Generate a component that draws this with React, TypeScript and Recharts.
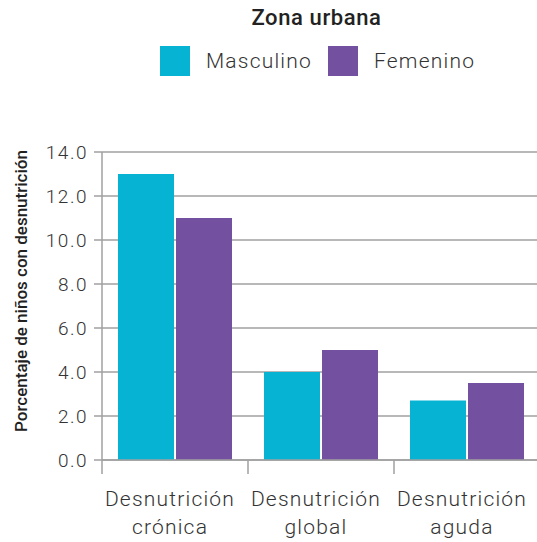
import React from 'react';
import { BarChart, Bar, XAxis, YAxis, CartesianGrid } from 'recharts';

const categorias = [['Desnutrición', 'crónica'], ['Desnutrición', 'global'], ['Desnutrición', 'aguda']];
const masculino = [13.0, 4.0, 2.7];
const femenino = [11.0, 5.0, 3.5];
const yTicks = [0, 2, 4, 6, 8, 10, 12, 14];

const CYAN = '#06b3d3';
const PURPLE = '#7351a0';
const GRID = '#a0a0a0';
const FONT = 'Roboto, "DejaVu Sans", sans-serif';

const CHART_W = 541;
const CHART_H = 542;
const PLOT_LEFT = 102;
const PLOT_W = 438;
const BAND = PLOT_W / categorias.length;

const data = categorias.map((c, i) => ({
  name: c.join(' '),
  idx: i,
  masculino: masculino[i],
  femenino: femenino[i],
}));

function CategoryTick(props: any) {
  const { x, y, payload, index } = props;
  const lines = categorias[payload.value] || [];
  const last = index === categorias.length - 1;
  return (
    <g>
      <line x1={x - BAND / 2} x2={x - BAND / 2} y1={y} y2={y + 14} stroke={GRID} strokeWidth={1.5} />
      {last && <line x1={x + BAND / 2} x2={x + BAND / 2} y1={y} y2={y + 14} stroke={GRID} strokeWidth={1.5} />}
      {lines.map((t, i) => (
        <text
          key={i}
          x={x - 5}
          y={y + 46 + i * 28}
          textAnchor="middle"
          fontSize={21}
          fontWeight={300}
          letterSpacing={1.2}
          fill="#333"
          fontFamily={FONT}
        >
          {t}
        </text>
      ))}
    </g>
  );
}

// titulo del eje Y, girado
function YTitle() {
  return (
    <text
      transform="translate(27,291) rotate(-90)"
      textAnchor="middle"
      fontSize={17}
      fontWeight={500}
      fill="#222"
      fontFamily={FONT}
    >
      Porcentaje de niños con desnutrición
    </text>
  );
}

export default function App() {
  return (
    <div style={{ position: 'absolute', left: 0, top: 0, width: 537, height: 542, overflow: 'hidden', background: '#fff', fontFamily: FONT }}>
      <div style={{ position: 'absolute', left: 0, top: 0, width: 537, textAlign: 'center', paddingLeft: 96, boxSizing: 'border-box' }}>
        <div style={{ fontSize: 22, fontWeight: 500, color: '#222', marginTop: 5, lineHeight: '26px', letterSpacing: 0.6 }}>Zona urbana</div>
      </div>
      <div style={{ position: 'absolute', left: 160, top: 46, display: 'flex', alignItems: 'center' }}>
        <div style={{ width: 30, height: 30, background: CYAN }} />
        <span style={{ marginLeft: 16, fontSize: 21, fontWeight: 300, color: '#333', letterSpacing: 1.2 }}>Masculino</span>
        <div style={{ width: 30, height: 30, background: PURPLE, marginLeft: 16 }} />
        <span style={{ marginLeft: 16, fontSize: 21, fontWeight: 300, color: '#333', letterSpacing: 1.2 }}>Femenino</span>
      </div>
      <div style={{ position: 'absolute', left: 0, top: 0 }}>
        <BarChart
          width={CHART_W}
          height={CHART_H}
          data={data}
          margin={{ top: 152, right: CHART_W - PLOT_LEFT - PLOT_W, bottom: 0, left: 0 }}
          barGap={2}
          barCategoryGap={16}
        >
          <CartesianGrid vertical={false} stroke={GRID} strokeWidth={1.5} />
          <XAxis
            dataKey="idx"
            type="category"
            height={82}
            axisLine={{ stroke: GRID, strokeWidth: 1.5 }}
            tickLine={false}
            tickSize={0}
            tickMargin={0}
            tick={<CategoryTick />}
            interval={0}
          />
          <YAxis
            width={PLOT_LEFT}
            domain={[0, 14]}
            ticks={yTicks}
            interval={0}
            tickFormatter={(v: number) => v.toFixed(1)}
            axisLine={{ stroke: GRID, strokeWidth: 1.5 }}
            tickLine={{ stroke: GRID, strokeWidth: 1.5 }}
            tickSize={8}
            tickMargin={6}
            tick={{ fontSize: 19, fontWeight: 300, fill: '#333', fontFamily: FONT, letterSpacing: 1.5 }}
            label={{ content: () => <YTitle /> }}
          />
          <Bar dataKey="masculino" fill={CYAN} barSize={56} isAnimationActive={false} />
          <Bar dataKey="femenino" fill={PURPLE} barSize={56} isAnimationActive={false} />
        </BarChart>
      </div>
    </div>
  );
}
